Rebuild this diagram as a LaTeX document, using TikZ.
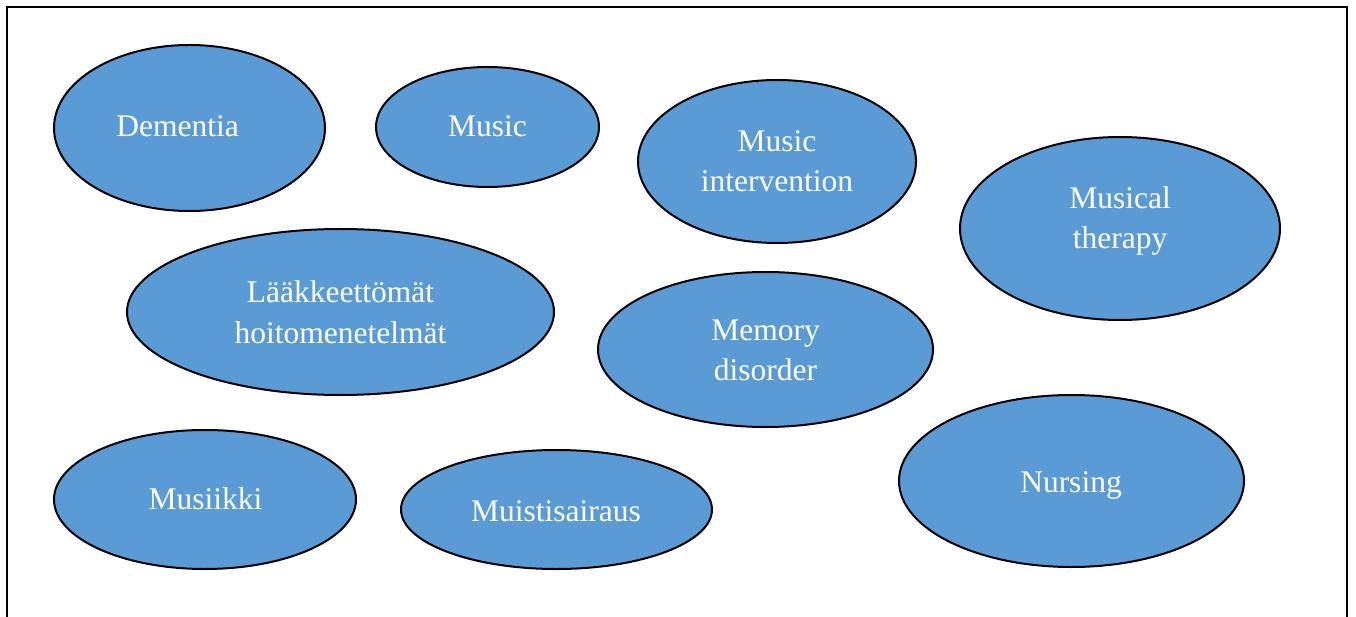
\documentclass[tikz,border=0pt]{standalone}
\usepackage{fontspec}
\setmainfont{Liberation Serif}
\usetikzlibrary{shapes.geometric}
\definecolor{ovalblue}{HTML}{5B9BD5}
\tikzset{
  oval/.style={ellipse, draw=black, line width=2pt, fill=ovalblue, inner sep=0pt},
  lbl/.style={text=white, font=\fontsize{31.5}{40}\selectfont, align=center, inner sep=0pt}
}
\begin{document}
\begin{tikzpicture}[x=1pt,y=-1pt]
\useasboundingbox (0,0) rectangle (1356,617);
\draw[line width=2pt] (7,617) -- (7,7) -- (1347,7) -- (1347,617);
% ellipses
\node[oval, minimum width=271pt, minimum height=166pt] (e1) at (189.5,128) {};
\node[oval, minimum width=223pt, minimum height=120pt] (e2) at (487.5,127) {};
\node[oval, minimum width=278pt, minimum height=163pt] (e3) at (777,161.5) {};
\node[oval, minimum width=320pt, minimum height=183pt] (e4) at (1120,228.5) {};
\node[oval, minimum width=427pt, minimum height=166pt] (e5) at (340.5,312) {};
\node[oval, minimum width=335pt, minimum height=155pt] (e6) at (765.5,349.5) {};
\node[oval, minimum width=302pt, minimum height=139pt] (e7) at (205,499.5) {};
\node[oval, minimum width=311pt, minimum height=119pt] (e8) at (556.5,509.5) {};
\node[oval, minimum width=345pt, minimum height=172pt] (e9) at (1071.5,481) {};
% labels
\node[lbl, anchor=base] (t1) at (177.5,137) {Dementia};
\node[lbl, anchor=base] (t2) at (487.5,137) {Music};
\node[lbl, anchor=base] (t3) at (777,192) {Music\\intervention};
\node[lbl, anchor=base] (t4) at (1120,249) {Musical\\therapy};
\node[lbl, anchor=base] (t5) at (340.5,343) {Lääkkeettömät\\hoitomenetelmät};
\node[lbl, anchor=base] (t6) at (765.5,380) {Memory\\disorder};
\node[lbl, anchor=base] (t7) at (205.5,509) {Musiikki};
\node[lbl, anchor=base] (t8) at (556,521) {Muistisairaus};
\node[lbl, anchor=base] (t9) at (1071,492) {Nursing};
\end{tikzpicture}
\end{document}
